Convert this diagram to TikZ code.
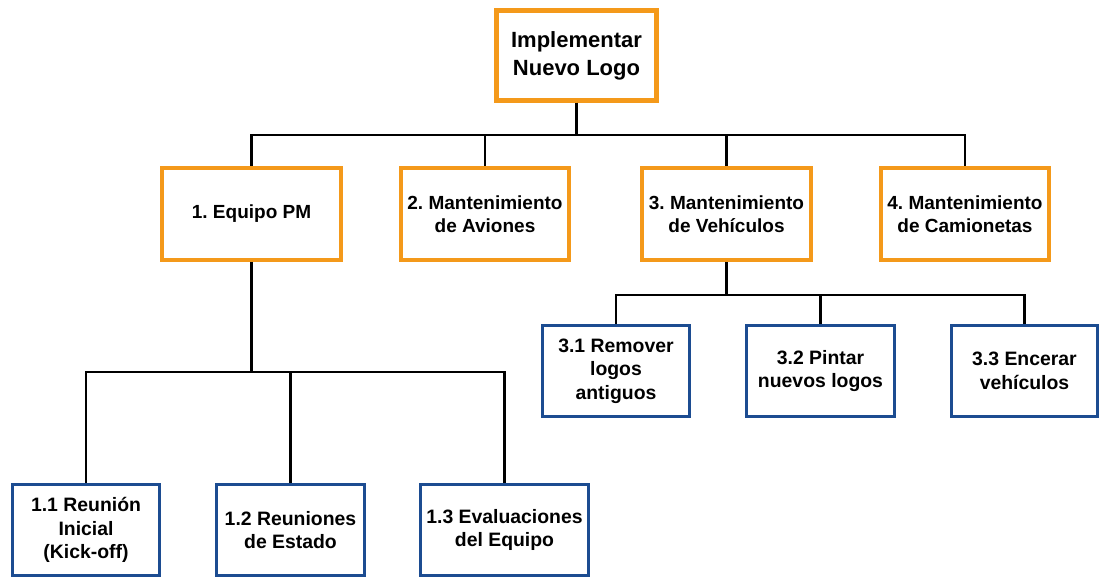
\documentclass[tikz,border=0pt]{standalone}
\usepackage{fontspec}
\setmainfont{Liberation Sans}
\usetikzlibrary{positioning, calc}

\definecolor{wbsorange}{RGB}{244,153,26}
\definecolor{wbsblue}{RGB}{28,76,145}

\begin{document}
\frenchspacing
\begin{tikzpicture}[
    x=1pt, y=-1pt,
    wbsroot/.style={draw=wbsorange, line width=4.5pt, fill=white, align=center, inner sep=0pt,
                    font=\fontsize{22}{28}\selectfont\bfseries,
                    minimum width=160pt, minimum height=90pt},
    wbsphase/.style={draw=wbsorange, line width=4pt, fill=white, align=center, inner sep=0pt,
                     font=\fontsize{19}{23.5}\selectfont\bfseries, minimum height=92pt},
    wbstask/.style={draw=wbsblue, line width=3.5pt, fill=white, align=center, inner sep=0pt,
                    font=\fontsize{19.4}{23.5}\selectfont\bfseries, minimum height=91pt},
    conn/.style={draw=black, line width=2.8pt},
]
    \useasboundingbox[fill=white] (0,0) rectangle (1100,578);

    %==================== ROOT ====================
    \node[wbsroot] (root) at (576.5,55.5) {Implementar\\Nuevo Logo};

    %==================== PHASES ====================
    \node[wbsphase, minimum width=179pt] (equipo) at (251.5,214) {1. Equipo PM};
    \node[wbsphase, minimum width=168pt] (aviones) at (485,214) {2. Mantenimiento\\de Aviones};
    \node[wbsphase, minimum width=169pt] (vehic) at (726.5,214) {3. Mantenimiento\\de Vehículos};
    \node[wbsphase, minimum width=168pt] (camion) at (965,214) {4. Mantenimiento\\de Camionetas};

    %==================== TASKS OF 3 ====================
    \node[wbstask, minimum width=147pt] (remover) at (616,371) {3.1 Remover\\logos\\antiguos};
    \node[wbstask, minimum width=148pt] (pintar) at (820.5,371) {3.2 Pintar\\nuevos logos};
    \node[wbstask, minimum width=146pt] (encerar) at (1024.5,371) {3.3 Encerar\\vehículos};

    %==================== TASKS OF 1 ====================
    \node[wbstask, minimum width=147pt] (kickoff) at (86,530) {1.1 Reunión\\Inicial\\(Kick-off)};
    \node[wbstask, minimum width=148pt] (estado) at (290.5,530) {1.2 Reuniones\\de Estado};
    \node[wbstask, minimum width=168pt] (evalua) at (504.5,530) {1.3 Evaluaciones\\del Equipo};

    %==================== CONNECTORS ====================
    \coordinate (barroot) at (0,135);
    \coordinate (barvehic) at (0,295);
    \coordinate (barequipo) at (0,372);

    \foreach \child in {equipo, aviones, vehic, camion}
        \draw[conn] (root.south) -- (root.south |- barroot) -| (\child.north);
    \foreach \child in {remover, pintar, encerar}
        \draw[conn] (vehic.south) -- (vehic.south |- barvehic) -| (\child.north);
    \foreach \child in {kickoff, estado, evalua}
        \draw[conn] (equipo.south) -- (equipo.south |- barequipo) -| (\child.north);

\end{tikzpicture}
\end{document}
